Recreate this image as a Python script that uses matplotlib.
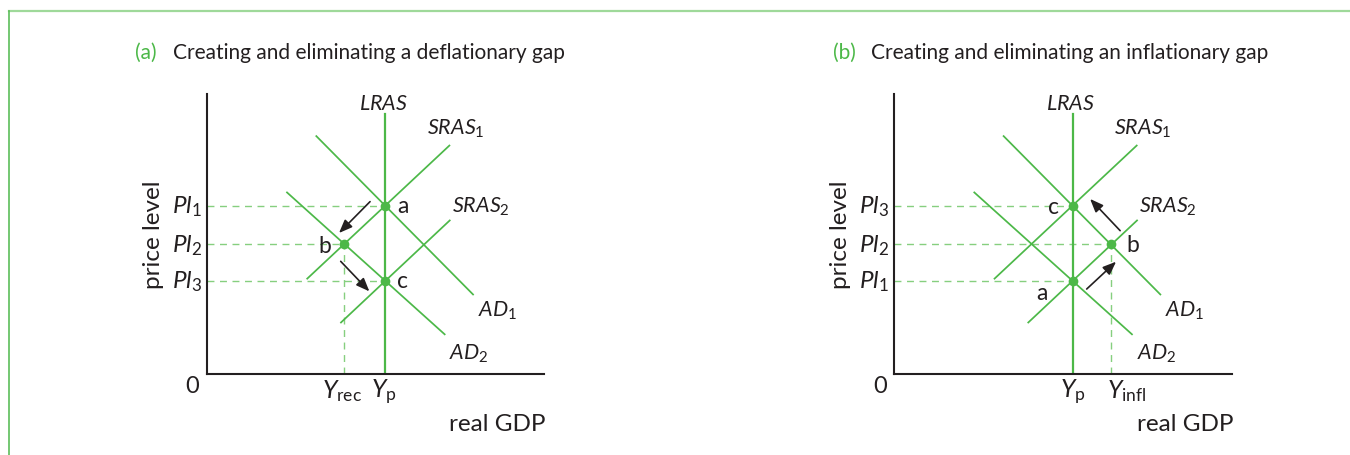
import matplotlib
matplotlib.use("Agg")
import matplotlib.pyplot as plt
from matplotlib.lines import Line2D

FONT = "Lato"
plt.rcParams["font.family"] = [FONT, "DejaVu Sans"]
plt.rcParams["mathtext.fontset"] = "custom"
plt.rcParams["mathtext.rm"] = FONT
plt.rcParams["mathtext.it"] = FONT + ":italic"

# ---------------- data (shared geometry, data units) ----------------
x_max, y_max = 10.0, 8.29
lras_x = 5.29
lras_top = 7.70

sras1_x = [2.96, 7.21]
sras1_y = [2.80, 6.78]
ad1_x = [3.23, 7.91]
ad1_y = [7.06, 2.33]
sras2_x = [3.96, 7.22]
sras2_y = [1.50, 4.56]
ad2_x = [2.36, 7.07]
ad2_y = [5.39, 1.15]

pl_high, pl_mid, pl_low = 4.98, 3.83, 2.75
y_rec = 4.07
y_infl = 6.43

# panel a
a_points_x = [lras_x, y_rec, lras_x]
a_points_y = [pl_high, pl_mid, pl_low]
a_point_names = ["a", "b", "c"]
a_name_pos_x = [5.82, 3.51, 5.81]
a_name_pos_y = [4.98, 3.80, 2.75]
a_pl_labels = [r"$Pl_1$", r"$Pl_2$", r"$Pl_3$"]
a_arrows = [((4.84, 5.10), (3.92, 4.17)), ((3.97, 3.33), (4.82, 2.44))]

# panel b
b_points_x = [lras_x, y_infl, lras_x]
b_points_y = [pl_low, pl_mid, pl_high]
b_point_names = ["a", "b", "c"]
b_name_pos_x = [4.38, 7.08, 4.72]
b_name_pos_y = [2.41, 3.82, 4.97]
b_pl_labels = [r"$Pl_1$", r"$Pl_2$", r"$Pl_3$"]
b_arrows = [((5.71, 2.51), (6.58, 3.32)), ((6.70, 4.24), (5.81, 5.18))]

titles = ["Creating and eliminating a deflationary gap",
          "Creating and eliminating an inflationary gap"]
title_tags = ["(a)", "(b)"]

GREEN = "#4cb848"
DASH = "#86cf7f"
INK = "#231f20"

W, H = 1350, 456
fig = plt.figure(figsize=(W / 100, H / 100), dpi=100)

# frame lines
fig.add_artist(Line2D([9 / W, 1.0], [1 - 12 / H, 1 - 12 / H], color="#9fd99a", lw=1.6))
fig.add_artist(Line2D([9 / W, 9 / W], [0, 1 - 12 / H], color="#5cbd5a", lw=1.2))


def make_axes(x0px):
    left = x0px / W
    bottom = (H - 374.7) / H
    width = 337.5 / W
    height = (374.7 - 95) / H
    ax = fig.add_axes([left, bottom, width, height])
    ax.set_xlim(0, x_max)
    ax.set_ylim(0, y_max)
    for s in ["top", "right"]:
        ax.spines[s].set_visible(False)
    for s in ["left", "bottom"]:
        ax.spines[s].set_color(INK)
        ax.spines[s].set_linewidth(1.5)
    ax.set_xticks([])
    ax.set_yticks([])
    ax.patch.set_alpha(0)
    return ax


def draw_panel(ax, pts_x, pts_y, names, name_x, name_y, arrows, ygap):
    # dashed guides
    for px, py in zip(pts_x, pts_y):
        ax.plot([0, px], [py, py], color=DASH, lw=1.0, dashes=(5, 4), zorder=1)
    ax.plot([ygap, ygap], [0, pl_mid], color=DASH, lw=1.0, dashes=(5, 4), zorder=1)
    # curves
    ax.plot([lras_x, lras_x], [0, lras_top], color=GREEN, lw=1.6, zorder=2)
    for xs, ys in [(sras1_x, sras1_y), (ad1_x, ad1_y), (sras2_x, sras2_y), (ad2_x, ad2_y)]:
        ax.plot(xs, ys, color=GREEN, lw=1.25, solid_capstyle="butt", zorder=2)
    ax.plot(pts_x, pts_y, "o", color=GREEN, ms=7, mec="none", zorder=3)
    for n, nx, ny in zip(names, name_x, name_y):
        ax.text(nx, ny, n, fontsize=16.5, color=INK, ha="center", va="center")
    # arrows
    for (x0, y0), (x1, y1) in arrows:
        ax.annotate("", xy=(x1, y1), xytext=(x0, y0),
                    arrowprops=dict(arrowstyle="-|>,head_length=0.5,head_width=0.2", color=INK, lw=1.2,
                                    mutation_scale=16, shrinkA=0, shrinkB=0))
    # curve labels
    fs = 15.5
    ax.text(5.24, 8.02, r"$LRAS$", fontsize=fs, ha="center", va="center", color=INK)
    ax.text(7.38, 7.28, r"$SRAS_1$", fontsize=fs, ha="center", va="center", color=INK)
    ax.text(8.12, 4.97, r"$SRAS_2$", fontsize=fs, ha="center", va="center", color=INK)
    ax.text(8.62, 1.89, r"$AD_1$", fontsize=fs, ha="center", va="center", color=INK)
    ax.text(7.77, 0.61, r"$AD_2$", fontsize=fs, ha="center", va="center", color=INK)
    # axis labels
    ax.text(-0.42, -0.36, "0", fontsize=17, ha="center", va="center", color=INK, clip_on=False)
    ax.text(10.05, -1.49, "real GDP", fontsize=17.5, ha="right", va="center", color=INK, clip_on=False)
    ax.text(-1.59, 4.14, "price level", fontsize=17.5, rotation=90, ha="center", va="center", color=INK, clip_on=False)


ax_a = make_axes(206.7)
draw_panel(ax_a, a_points_x, a_points_y, a_point_names, a_name_pos_x, a_name_pos_y, a_arrows, y_rec)
for lab, py in zip(a_pl_labels, [pl_high, pl_mid, pl_low]):
    ax_a.text(-0.15, py, lab, fontsize=17.5, ha="right", va="center", color=INK, clip_on=False)
ax_a.text(y_rec - 0.05, -0.1, r"$Y_{\mathrm{rec}}$", fontsize=18, ha="center", va="top", color=INK, clip_on=False)
ax_a.text(lras_x - 0.05, -0.1, r"$Y_{\mathrm{p}}$", fontsize=18, ha="center", va="top", color=INK, clip_on=False)

ax_b = make_axes(894.0)
draw_panel(ax_b, b_points_x, b_points_y, b_point_names, b_name_pos_x, b_name_pos_y, b_arrows, y_infl)
for lab, py in zip(b_pl_labels, [pl_low, pl_mid, pl_high]):
    ax_b.text(-0.15, py, lab, fontsize=17.5, ha="right", va="center", color=INK, clip_on=False)
ax_b.text(lras_x, -0.1, r"$Y_{\mathrm{p}}$", fontsize=18, ha="center", va="top", color=INK, clip_on=False)
ax_b.text(y_infl - 0.12, -0.1, r"$Y_{\mathrm{infl}}$", fontsize=18, ha="left", va="top", color=INK, clip_on=False)

# titles
for tx, tag, title in [(135, title_tags[0], titles[0]), (833, title_tags[1], titles[1])]:
    fig.text(tx / W, 1 - 53 / H, tag, fontsize=15, color=GREEN, ha="left", va="center")
    fig.text((tx + 38) / W, 1 - 53 / H, title, fontsize=15, color=INK, ha="left", va="center")

fig.savefig("out.png", dpi=100)
